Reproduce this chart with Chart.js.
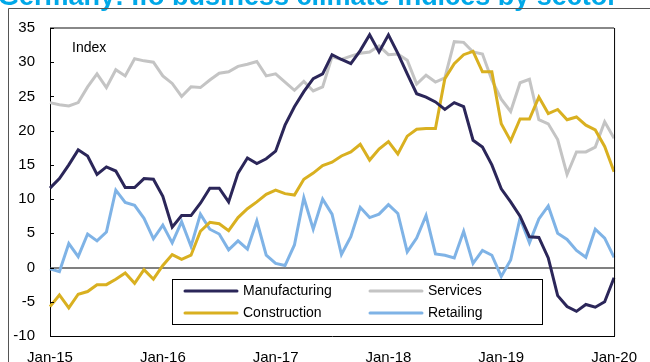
<!DOCTYPE html>
<html>
<head>
<meta charset="utf-8">
<script src="https://cdn.jsdelivr.net/npm/chart.js@4.4.1/dist/chart.umd.min.js"></script>
<style>
  body { margin: 0; background: #fff; }
  #wrap { width: 650px; height: 362px; position: relative; }
</style>
</head>
<body>
<div id="wrap"><canvas id="ifoChart"></canvas></div>
<script>
// monthly, Jan-15 .. Jan-20
const monthNames = ["Jan", "Feb", "Mar", "Apr", "May", "Jun", "Jul", "Aug", "Sep", "Oct", "Nov", "Dec"];
const years = ["15", "16", "17", "18", "19", "20"];
const tickLabels = ["Jan-15", "Jan-16", "Jan-17", "Jan-18", "Jan-19", "Jan-20"];

const manufacturing = [
    11.6, 13.0, 15.0, 17.2, 16.3, 13.6, 14.7, 14.1, 11.7, 11.7, 13.0, 12.9,
    10.4, 5.9, 7.6, 7.6, 9.4, 11.6, 11.6, 9.6, 13.8, 16.0, 15.2, 15.9,
    17.0, 20.8, 23.5, 25.7, 27.6, 28.3, 31.1, 30.4, 29.8, 31.7, 34.0, 31.5,
    34.0, 31.3, 28.3, 25.4, 24.9, 24.2, 23.1, 24.1, 23.5, 18.6, 17.6, 15.0,
    11.5, 9.6, 7.5, 4.5, 4.4, 1.4, -4.1, -5.7, -6.4, -5.4, -5.8, -5.0,
    -1.5
];
const services = [
    24.1, 23.8, 23.6, 24.1, 26.4, 28.3, 26.3, 28.9, 28.0, 30.5, 30.2, 30.0,
    28.0, 26.9, 25.0, 26.4, 26.3, 27.4, 28.4, 28.6, 29.4, 29.7, 30.1, 28.0,
    28.3, 27.1, 25.9, 27.2, 25.8, 26.4, 30.8, 30.4, 30.9, 31.3, 31.5, 32.4,
    31.1, 31.2, 30.3, 26.8, 28.1, 27.1, 27.7, 33.0, 32.9, 31.5, 31.2, 27.4,
    24.6, 22.8, 27.0, 27.5, 21.6, 21.0, 18.7, 13.6, 16.9, 16.9, 17.6, 21.3,
    18.9
];
const construction = [
    -5.7, -4.0, -5.9, -3.9, -3.5, -2.5, -2.5, -1.7, -0.8, -2.3, -0.3, -1.7,
    0.3, 1.9, 1.2, 1.8, 5.3, 6.6, 6.4, 5.4, 7.3, 8.6, 9.6, 10.7,
    11.3, 10.8, 10.6, 12.9, 13.8, 14.9, 15.4, 16.3, 16.9, 18.0, 15.7, 17.3,
    18.4, 16.6, 19.2, 20.2, 20.3, 20.3, 27.6, 29.8, 31.1, 31.6, 28.6, 28.6,
    21.0, 18.5, 21.7, 21.7, 24.9, 22.5, 23.1, 21.6, 22.0, 20.8, 20.1, 17.7,
    14.0
];
const retailing = [
    -0.2, -0.6, 3.5, 1.6, 4.9, 3.9, 5.2, 11.3, 9.5, 9.1, 7.2, 4.2,
    6.2, 3.6, 6.7, 3.1, 7.8, 5.6, 4.9, 2.6, 3.9, 2.7, 6.8, 1.8,
    0.6, 0.3, 3.3, 10.2, 5.6, 10.0, 7.8, 1.9, 4.5, 8.8, 7.3, 7.8,
    9.2, 7.9, 2.3, 4.3, 7.6, 2.0, 1.8, 1.4, 5.3, 0.6, 2.5, 1.8,
    -1.3, 1.1, 7.2, 3.6, 7.1, 9.0, 5.0, 4.1, 2.5, 1.5, 5.6, 4.3,
    1.5
];

const labels = [];
years.forEach(function (y) {
    monthNames.forEach(function (m) {
        labels.push(m + "-" + y);
    });
});
labels.length = manufacturing.length;

const FONT = "'Liberation Sans', Arial, sans-serif";

const decorPlugin = {
    id: "decor",
    beforeDraw: function (chart) {
        const ctx = chart.ctx;
        ctx.save();
        // title, cut at top
        ctx.fillStyle = "#00a8e8";
        ctx.font = "bold 27px " + FONT;
        ctx.textBaseline = "alphabetic";
        ctx.textAlign = "left";
        ctx.fillText("Germany: Ifo business climate indices by sector", -2, 5);
        // outer frame
        ctx.strokeStyle = "#555";
        ctx.lineWidth = 1;
        ctx.beginPath();
        ctx.moveTo(8.5, 362);
        ctx.lineTo(8.5, 8.5);
        ctx.lineTo(650, 8.5);
        ctx.stroke();
        ctx.restore();
    },
    afterDatasetsDraw: function (chart) {
        const ctx = chart.ctx;
        const a = chart.chartArea;
        const yScale = chart.scales.y;
        ctx.save();
        // top and right borders of plot
        ctx.strokeStyle = "#888";
        ctx.lineWidth = 2;
        ctx.beginPath();
        ctx.moveTo(a.left, a.top);
        ctx.lineTo(a.right, a.top);
        ctx.stroke();
        ctx.strokeStyle = "#000";
        ctx.lineWidth = 1;
        ctx.beginPath();
        ctx.moveTo(a.right + 0.5, a.top);
        ctx.lineTo(a.right + 0.5, a.bottom);
        ctx.stroke();
        // inward ticks on y axis
        yScale.ticks.forEach(function (t) {
            const py = Math.round(yScale.getPixelForValue(t.value)) + 0.5;
            ctx.beginPath();
            ctx.moveTo(a.left, py);
            ctx.lineTo(a.left + 4, py);
            ctx.stroke();
        });

        ctx.fillStyle = "#000";
        ctx.font = "14px " + FONT;
        ctx.textBaseline = "middle";
        ctx.fillText("Index", 72, 48);

        // legend box
        const bx = 172, by = 279, bw = 370, bh = 45;
        ctx.fillStyle = "#fff";
        ctx.fillRect(bx, by, bw, bh);
        ctx.strokeStyle = "#000";
        ctx.lineWidth = 1;
        ctx.strokeRect(bx + 0.5, by + 0.5, bw, bh);
        const items = [
            { idx: 0, x: 185, y: 291 },
            { idx: 2, x: 370, y: 291 },
            { idx: 1, x: 185, y: 313 },
            { idx: 3, x: 370, y: 313 }
        ];
        items.forEach(function (it) {
            const ds = chart.data.datasets[it.idx];
            ctx.strokeStyle = ds.borderColor;
            ctx.lineWidth = 3;
            ctx.lineCap = "round";
            ctx.beginPath();
            ctx.moveTo(it.x, it.y);
            ctx.lineTo(it.x + 52, it.y);
            ctx.stroke();
            ctx.fillStyle = "#000";
            ctx.font = "14px " + FONT;
            ctx.textBaseline = "middle";
            ctx.fillText(ds.label, it.x + 58, it.y);
        });
        ctx.restore();
    }
};

function makeLine(label, data, color) {
    return {
        label: label,
        data: data,
        borderColor: color,
        backgroundColor: color,
        borderWidth: 3,
        pointRadius: 0,
        tension: 0,
        fill: false
    };
}

const ctx = document.getElementById("ifoChart").getContext("2d");
new Chart(ctx, {
    type: "line",
    data: {
        labels: labels,
        datasets: [
            makeLine("Manufacturing", manufacturing, "#2b2659"),
            makeLine("Construction", construction, "#d9b020"),
            makeLine("Services", services, "#c4c4c4"),
            makeLine("Retailing", retailing, "#7fb3e6")
        ]
    },
    options: {
        responsive: true,
        maintainAspectRatio: false,
        animation: false,
        layout: {
            padding: { left: 7, right: 27, top: 28, bottom: 0 }
        },
        plugins: {
            legend: { display: false },
            tooltip: { enabled: false }
        },
        scales: {
            x: {
                type: "category",
                offset: false,
                grid: { display: false, drawTicks: false },
                border: { display: true, color: "#000", width: 1 },
                ticks: {
                    autoSkip: false,
                    maxRotation: 0,
                    padding: 13,
                    color: "#000",
                    font: { family: FONT, size: 15 },
                    callback: function (value, index) {
                        return index % 12 === 0 ? tickLabels[index / 12] : null;
                    }
                },
                afterFit: function (scale) {
                    scale.height = 26;
                }
            },
            y: {
                min: -10,
                max: 35,
                grid: {
                    drawTicks: false,
                    lineWidth: 2,
                    color: function (c) {
                        return c.tick && c.tick.value === 0 ? "#808080" : "rgba(0,0,0,0)";
                    }
                },
                border: { display: true, color: "#000", width: 1 },
                ticks: {
                    stepSize: 5,
                    padding: 15,
                    color: "#000",
                    font: { family: FONT, size: 15 }
                },
                afterFit: function (scale) {
                    scale.width = 43;
                }
            }
        }
    },
    plugins: [decorPlugin]
});
</script>
</body>
</html>
